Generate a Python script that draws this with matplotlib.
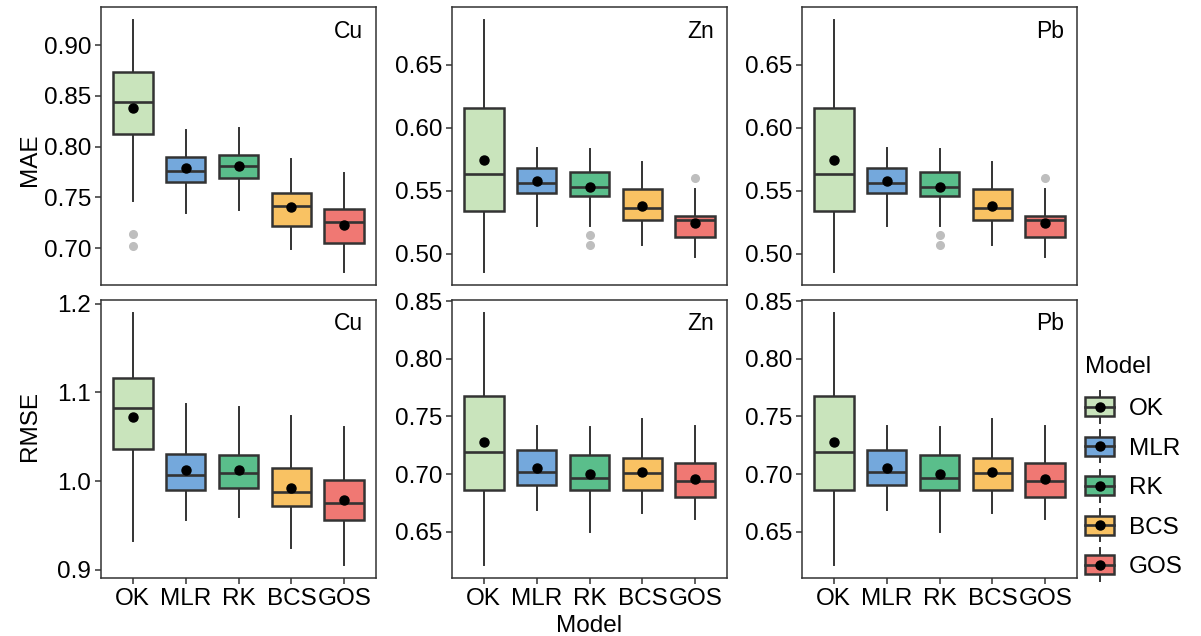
import matplotlib
matplotlib.use("Agg")
import matplotlib.pyplot as plt
from matplotlib.patches import Patch, Rectangle
from matplotlib.lines import Line2D
from matplotlib.legend_handler import HandlerBase

plt.rcParams['font.family'] = ['Liberation Sans', 'DejaVu Sans']

models = ["OK", "MLR", "RK", "BCS", "GOS"]
colors = ["#C9E4BC", "#74A8DC", "#5ABE8B", "#F9C263", "#F07873"]
elements = ["Cu", "Zn", "Pb"]

# per model: whisker low, Q1, median, Q3, whisker high, mean
cu_mae = [
    [0.746, 0.812, 0.844, 0.873, 0.925, 0.838],
    [0.734, 0.765, 0.776, 0.790, 0.816, 0.779],
    [0.737, 0.769, 0.781, 0.792, 0.818, 0.781],
    [0.699, 0.722, 0.741, 0.754, 0.788, 0.740],
    [0.676, 0.705, 0.726, 0.738, 0.774, 0.723],
]
cu_mae_out = [[0.714, 0.702], [], [], [], []]

zn_mae = [
    [0.485, 0.534, 0.563, 0.616, 0.686, 0.574],
    [0.522, 0.548, 0.556, 0.568, 0.584, 0.558],
    [0.522, 0.546, 0.553, 0.565, 0.583, 0.553],
    [0.507, 0.527, 0.536, 0.551, 0.573, 0.538],
    [0.497, 0.513, 0.527, 0.530, 0.551, 0.524],
]
zn_mae_out = [[], [], [0.515, 0.507], [], [0.560]]

pb_mae = [
    [0.485, 0.534, 0.563, 0.616, 0.686, 0.574],
    [0.522, 0.548, 0.556, 0.568, 0.584, 0.558],
    [0.522, 0.546, 0.553, 0.565, 0.583, 0.553],
    [0.507, 0.527, 0.536, 0.551, 0.573, 0.538],
    [0.497, 0.513, 0.527, 0.530, 0.551, 0.524],
]
pb_mae_out = [[], [], [0.515, 0.507], [], [0.560]]

cu_rmse = [
    [0.933, 1.036, 1.082, 1.116, 1.190, 1.072],
    [0.956, 0.990, 1.007, 1.031, 1.087, 1.012],
    [0.960, 0.992, 1.009, 1.030, 1.084, 1.012],
    [0.925, 0.972, 0.988, 1.015, 1.073, 0.992],
    [0.905, 0.956, 0.975, 1.001, 1.061, 0.979],
]
zn_rmse = [
    [0.621, 0.686, 0.719, 0.768, 0.840, 0.728],
    [0.669, 0.691, 0.702, 0.721, 0.742, 0.705],
    [0.650, 0.686, 0.697, 0.717, 0.741, 0.700],
    [0.666, 0.686, 0.701, 0.714, 0.748, 0.702],
    [0.661, 0.680, 0.694, 0.710, 0.742, 0.696],
]
pb_rmse = [
    [0.621, 0.686, 0.719, 0.768, 0.840, 0.728],
    [0.669, 0.691, 0.702, 0.721, 0.742, 0.705],
    [0.650, 0.686, 0.697, 0.717, 0.741, 0.700],
    [0.666, 0.686, 0.701, 0.714, 0.748, 0.702],
    [0.661, 0.680, 0.694, 0.710, 0.742, 0.696],
]
no_out = [[], [], [], [], []]

cu_mae_ticks = [0.70, 0.75, 0.80, 0.85, 0.90]
zn_mae_ticks = [0.50, 0.55, 0.60, 0.65]
cu_rmse_ticks = [0.9, 1.0, 1.1, 1.2]
zn_rmse_ticks = [0.65, 0.70, 0.75, 0.80, 0.85]

panels = [
    [(cu_mae, cu_mae_out, cu_mae_ticks, "%.2f"),
     (zn_mae, zn_mae_out, zn_mae_ticks, "%.2f"),
     (pb_mae, pb_mae_out, zn_mae_ticks, "%.2f")],
    [(cu_rmse, no_out, cu_rmse_ticks, "%.1f"),
     (zn_rmse, no_out, zn_rmse_ticks, "%.2f"),
     (pb_rmse, no_out, zn_rmse_ticks, "%.2f")],
]
row_labels = ["MAE", "RMSE"]

EDGE = "#333333"
FS = 17.5

W, H = 1201, 636
fig = plt.figure(figsize=(W / 100, H / 100), dpi=100)

col_left = [101, 452, 802]
row_top = [7, 300]
pw, ph = 275, 278

for r in range(2):
    for c in range(3):
        data, outs, ticks, fmt = panels[r][c]
        ax = fig.add_axes([col_left[c] / W, 1 - (row_top[r] + ph) / H, pw / W, ph / H])
        stats = []
        for i, row in enumerate(data):
            stats.append(dict(whislo=row[0], q1=row[1], med=row[2], q3=row[3],
                              whishi=row[4], mean=row[5], fliers=outs[i]))
        bp = ax.bxp(stats, positions=range(1, 6), widths=0.75, patch_artist=True,
                    showmeans=True, showcaps=False, showfliers=True,
                    boxprops=dict(edgecolor=EDGE, linewidth=1.8),
                    medianprops=dict(color=EDGE, linewidth=1.9),
                    whiskerprops=dict(color=EDGE, linewidth=1.4),
                    meanprops=dict(marker="o", markerfacecolor="black",
                                   markeredgecolor="black", markersize=6.5),
                    flierprops=dict(marker="o", markerfacecolor="#BEBEBE",
                                    markeredgecolor="#BEBEBE", markersize=5.5))
        for box, col in zip(bp["boxes"], colors):
            box.set_facecolor(col)
            box.set_zorder(2)
        for w in bp["whiskers"]:
            w.set_zorder(1)

        lo = min(min(row[:5]) for row in data)
        hi = max(max(row[:5]) for row in data)
        for o in outs:
            if o:
                lo, hi = min(lo, min(o)), max(hi, max(o))
        pad = (hi - lo) * 0.05
        ax.set_ylim(lo - pad, hi + pad)
        ax.set_xlim(0.4, 5.6)
        ax.set_yticks(ticks)
        ax.set_yticklabels([fmt % t for t in ticks])

        for s in ax.spines.values():
            s.set_color(EDGE)
            s.set_linewidth(1.1)
        ax.tick_params(axis="y", length=4, width=1.1, color=EDGE, labelsize=FS,
                       pad=3, labelcolor="black")
        if r == 1:
            ax.set_xticks(range(1, 6))
            ax.set_xticklabels(models)
            ax.tick_params(axis="x", length=4, width=1.1, color=EDGE, labelsize=FS,
                           pad=3, labelcolor="black")
        else:
            ax.set_xticks([])

        ax.text(1 - 13 / pw, 1 - 24 / ph, elements[c], transform=ax.transAxes,
                ha="right", va="center", fontsize=16.5)

        if r == 1 and c == 1:
            ax.set_xlabel("Model", fontsize=FS, labelpad=4)

fig.text(30 / W, 1 - 160 / H, row_labels[0], rotation=90, ha="center", va="center",
         fontsize=FS)
fig.text(30 / W, 1 - 426 / H, row_labels[1], rotation=90, ha="center", va="center",
         fontsize=FS)


class BoxKey(HandlerBase):
    # legend key: small box with whisker, median line and mean dot
    def create_artists(self, legend, orig_handle, xdescent, ydescent, width, height,
                       fontsize, trans):
        x0, y0 = -xdescent, -ydescent
        ext = height * 0.35
        cx, cy = x0 + width / 2, y0 + height / 2
        whisk = Line2D([cx, cx], [y0 - ext, y0 + height + ext], color=EDGE, lw=1.4,
                       transform=trans)
        rect = Rectangle((x0, y0), width, height, facecolor=orig_handle.get_facecolor(),
                         edgecolor=EDGE, lw=1.8, transform=trans)
        med = Line2D([x0, x0 + width], [cy, cy], color=EDGE, lw=1.9, transform=trans)
        dot = Line2D([cx], [cy], marker="o", color="black", markersize=6.5,
                     transform=trans)
        return [whisk, rect, med, dot]


handles = [Patch(facecolor=col, edgecolor=EDGE) for col in colors]
leg = fig.legend(handles, models, handler_map={Patch: BoxKey()},
                 loc="upper left", bbox_to_anchor=(1085 / W, 1 - 356 / H),
                 frameon=False, fontsize=FS, title="Model", title_fontsize=FS,
                 handlelength=1.2, handleheight=0.82, labelspacing=0.68,
                 handletextpad=0.6, borderpad=0, borderaxespad=0)
leg._legend_box.align = "left"
leg._legend_box.sep = 14

fig.savefig("out.png", dpi=100)
